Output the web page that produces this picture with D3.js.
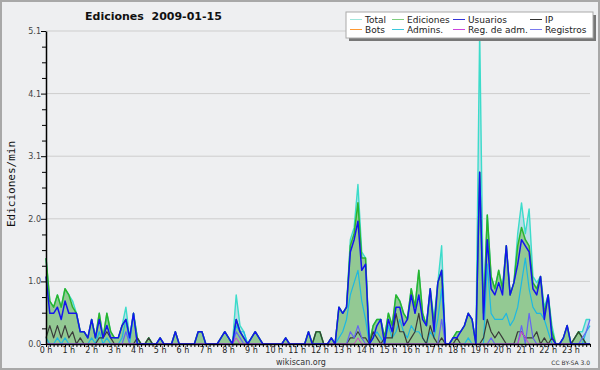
<!DOCTYPE html>
<html>
<head>
<meta charset="utf-8">
<script src="https://cdn.jsdelivr.net/npm/d3@7"></script>
<style>
  body { margin: 0; background: #fff; }
  text { font-family: "DejaVu Sans", sans-serif; }
</style>
</head>
<body>
<script>
// edits per minute, one value per 10 minute slot (144 slots)
var hours = d3.range(0, 24);
var yTicks = [0, 1.02, 2.04, 3.06, 4.08, 5.1];

var total = [
  1.4,0.7,0.6,0.8,0.6,0.9, 0.8,0.7,0.5,0.2,0.2,0.1,
  0.4,0.1,0.5,0.1,0.5,0.2, 0.1,0.1,0.3,0.6,0.1,0.5,
  0.1,0,0,0.1,0,0, 0.1,0,0,0,0.2,0,
  0,0,0,0,0.2,0.2, 0,0,0,0,0.1,0.2,
  0.1,0,0.8,0.3,0.2,0, 0.1,0.2,0.1,0,0,0,
  0,0,0,0.1,0,0, 0,0,0,0.2,0,0.2,
  0.2,0,0,0.1,0,0.6, 0.5,0.6,1.7,1.9,2.6,1.5,
  1.4,0,0.3,0.4,0.4,0.1, 0.5,0.3,0.8,0.7,0.5,0.4,
  0.9,0.6,1.2,0.5,0.3,0.9, 0.4,1.0,1.6,0,0,0.1,
  0.2,0.2,0.3,0.5,0.4,0, 5.1,0.5,2.1,1.1,0.9,1.2,
  0.9,1.6,0.8,1.0,1.8,2.3, 1.8,2.2,1.1,1.0,1.1,0.6,
  0.8,0.3,0,0,0.1,0.3, 0,0.1,0.2,0.2,0.4,0.4
];
var ediciones = [
  1.4,0.7,0.6,0.8,0.6,0.9, 0.8,0.6,0.5,0.2,0.2,0.1,
  0.4,0.1,0.5,0.1,0.5,0.2, 0.1,0.1,0.3,0.4,0.1,0.5,
  0.1,0,0,0.1,0,0, 0.1,0,0,0,0.2,0,
  0,0,0,0,0.2,0.2, 0,0,0,0,0.1,0.2,
  0.1,0,0.4,0.2,0.1,0, 0.1,0.2,0.1,0,0,0,
  0,0,0,0.1,0,0, 0,0,0,0.2,0,0.2,
  0.2,0,0,0.1,0,0.6, 0.5,0.6,1.6,1.8,2.3,1.4,
  1.4,0,0.3,0.4,0.4,0.1, 0.5,0.3,0.8,0.7,0.5,0.4,
  0.9,0.6,1.2,0.5,0.3,0.9, 0.3,1.0,1.2,0,0,0.1,
  0.2,0.2,0.3,0.5,0.4,0, 2.8,0.5,2.1,1.1,0.9,1.2,
  0.9,1.6,0.8,1.0,1.6,1.9, 1.7,1.6,1.0,0.9,1.1,0.5,
  0.8,0.2,0,0,0.1,0.3, 0,0.1,0.2,0.1,0,0
];
var usuarios = [
  1.1,0.5,0.5,0.6,0.4,0.7, 0.5,0.5,0.5,0.2,0.2,0.1,
  0.4,0.1,0.4,0.1,0.3,0.1, 0.1,0.1,0.3,0.4,0.1,0.5,
  0,0,0,0,0,0, 0.1,0,0,0,0.2,0,
  0,0,0,0,0.2,0.2, 0,0,0,0,0.1,0.2,
  0.1,0,0.4,0.2,0.1,0, 0.1,0.2,0.1,0,0,0,
  0,0,0,0.1,0,0, 0,0,0,0.2,0,0,
  0,0,0,0.1,0,0.6, 0.5,0.6,1.5,1.7,2.0,1.2,
  1.3,0,0.1,0.3,0.4,0, 0.4,0.2,0.6,0.6,0.3,0.4,
  0.8,0.5,0.8,0.4,0.3,0.9, 0.2,1.0,1.2,0,0,0.1,
  0.1,0.2,0.3,0.5,0.4,0, 2.8,0.4,1.7,0.9,0.8,1.0,
  0.8,1.6,0.8,1.0,1.3,1.7, 1.6,1.5,0.9,0.8,1.1,0.4,
  0.8,0.1,0,0,0.1,0.3, 0,0,0,0,0,0
];
var ip = [
  0.1,0.3,0.1,0.3,0.1,0.3, 0.1,0.2,0,0.1,0,0,
  0,0,0.1,0.1,0.2,0.1, 0,0,0,0,0,0,
  0.1,0,0,0.1,0,0, 0,0,0,0,0,0,
  0,0,0,0,0,0, 0,0,0,0,0,0,
  0,0,0,0,0,0, 0,0,0,0,0,0,
  0,0,0,0,0,0, 0,0,0,0,0,0.2,
  0.2,0,0,0,0,0, 0,0,0.1,0.1,0.2,0.1,
  0.1,0,0.2,0.1,0,0.1, 0.1,0.1,0.5,0.2,0.2,0,
  0.1,0.2,0.5,0.1,0,0.3, 0.1,0,0.1,0,0,0,
  0.1,0,0,0,0,0, 0,0.1,0.4,0.2,0.1,0.2,
  0.1,0,0,0,0.2,0.2, 0.1,0.1,0.1,0.2,0,0.1,
  0,0.1,0,0,0,0, 0,0.1,0.2,0.1,0,0
];
var bots = d3.range(144).map(function() { return 0; });
var admins = [
  0.1,0,0,0.1,0,0.1, 0,0,0,0,0,0,
  0.1,0,0.2,0,0.1,0, 0,0,0.1,0.4,0,0.5,
  0,0,0,0,0,0, 0,0,0,0,0,0,
  0,0,0,0,0,0, 0,0,0,0,0,0,
  0,0,0.3,0.2,0.2,0, 0,0,0,0,0,0,
  0,0,0,0,0,0, 0,0,0,0,0,0,
  0,0,0,0,0,0.1, 0.2,0.4,0.8,1.0,1.2,0.7,
  0.4,0,0.1,0.2,0.1,0, 0.3,0.1,0.2,0.4,0.2,0.1,
  0.3,0.2,0.2,0.1,0,0.2, 0.1,0.4,0.9,0,0,0,
  0,0,0,0.1,0,0, 0,0,1.3,0.5,0.4,0.4,
  0.4,0.5,0.3,0.4,0.6,1.0, 1.4,0.9,0.6,0.5,0.5,0.4,
  0.2,0,0,0,0,0, 0,0,0,0,0.2,0.3
];
var regAdm = [
  0,0,0,0,0,0, 0,0,0,0,0,0,
  0,0,0,0,0,0, 0,0,0,0,0,0,
  0,0,0,0,0,0, 0,0,0,0,0,0,
  0,0,0,0,0,0, 0,0,0,0,0,0,
  0,0,0.1,0,0,0, 0,0,0,0,0,0,
  0,0,0,0,0,0, 0,0,0,0,0,0,
  0,0,0,0,0,0, 0,0,0,0,0.1,0,
  0,0,0,0,0,0, 0,0,0,0,0,0,
  0,0,0,0,0,0, 0,0,0,0,0,0,
  0,0,0,0,0,0, 0,0,0,0,0,0,
  0,0,0,0,0,0.2, 0.1,0,0,0,0,0,
  0,0,0,0,0,0, 0,0,0,0,0,0
];
var registros = [
  0,0,0,0,0,0, 0,0,0,0,0,0,
  0,0,0,0,0,0, 0,0,0,0.2,0,0,
  0,0,0,0,0,0, 0,0,0,0,0,0,
  0,0,0,0,0,0, 0,0,0,0,0,0,
  0,0,0.2,0.1,0,0, 0,0,0,0,0,0,
  0,0,0,0,0,0, 0,0,0,0,0,0,
  0,0,0,0,0,0, 0,0,0.2,0.1,0.3,0.1,
  0,0,0,0,0,0, 0,0,0,0,0,0,
  0,0,0,0,0,0, 0,0,0.4,0,0,0,
  0,0,0,0,0,0, 0,0,0,0.1,0,0,
  0,0,0,0,0,0.3, 0,0.5,0.1,0,0,0,
  0,0,0,0,0,0, 0,0,0,0.1,0.2,0.4
];

var legendNames = ["Total", "Ediciones", "Usuarios", "IP", "Bots", "Admins.", "Reg. de adm.", "Registros"];
var legendColors = ["#9fe6dc", "#7fcf7f", "#3535d8", "#333333", "#ff9a33", "#3cc8dc", "#cc44dd", "#7a7aee"];

var W = 600, H = 370;

var svg = d3.select("body").append("svg")
            .attr("width", W)
            .attr("height", H);

svg.append("rect")
   .attr("x", 1).attr("y", 1)
   .attr("width", W - 2).attr("height", H - 2)
   .attr("fill", "#eeeff1")
   .attr("stroke", "#a8a8a8")
   .attr("stroke-width", 2);

var x = d3.scaleLinear().domain([0, 143]).range([46, 590]);
var y = d3.scaleLinear().domain([0, 5.1]).range([344, 31]);

// grid lines
svg.selectAll("line.grid")
   .data(yTicks.slice(1))
   .enter().append("line")
   .attr("class", "grid")
   .attr("x1", x(0)).attr("x2", x(143))
   .attr("y1", function(d) { return y(d); })
   .attr("y2", function(d) { return y(d); })
   .attr("stroke", "#cdcdcd")
   .attr("stroke-width", 1);

var area = d3.area()
             .x(function(d, i) { return x(i); })
             .y0(y(0))
             .y1(function(d) { return y(d); });

var line = d3.line()
             .x(function(d, i) { return x(i); })
             .y(function(d) { return y(d); });

svg.append("path").attr("d", area(total))
   .attr("fill", "#b3dbe6").attr("opacity", 0.85);
svg.append("path").attr("d", area(ediciones))
   .attr("fill", "#93c993");

function drawLine(data, color, width) {
    svg.append("path")
       .attr("d", line(data))
       .attr("fill", "none")
       .attr("stroke", color)
       .attr("stroke-width", width)
       .attr("stroke-linejoin", "round");
}

drawLine(total, "#3cdcca", 1.4);
drawLine(ediciones, "#2cb42c", 1.5);
drawLine(admins, "#1eb8e2", 1.2);
drawLine(ip, "#3a3a3a", 1.2);
drawLine(registros, "#6565f2", 1.2);
drawLine(regAdm, "#d040d0", 1);
drawLine(usuarios, "#1414ee", 1.5);

// x axis: small tick every 10 minutes, label every hour
svg.append("g")
   .attr("transform", "translate(0,344)")
   .call(d3.axisBottom(x).tickValues(d3.range(0, 144)).tickSize(3).tickSizeOuter(0).tickFormat(""))
   .call(function(g) {
       g.select(".domain").attr("stroke", "#000").attr("stroke-width", 1.5);
       g.selectAll(".tick line").attr("stroke", "#000");
   });

svg.append("g")
   .selectAll("text")
   .data(hours)
   .enter().append("text")
   .attr("x", function(d) { return x(d * 6); })
   .attr("y", 353)
   .attr("text-anchor", "middle")
   .attr("font-size", 8)
   .attr("fill", "#222")
   .text(function(d) { return d + " h"; });

// y axis
var minor = [];
yTicks.slice(0, -1).forEach(function(v) {
    [0.25, 0.5, 0.75].forEach(function(f) { minor.push(v + f * 1.02); });
});

svg.append("g")
   .attr("transform", "translate(46,0)")
   .call(d3.axisLeft(y).tickValues(minor).tickSize(4).tickSizeOuter(0).tickFormat(""))
   .call(function(g) { g.select(".domain").remove(); });

svg.append("g")
   .attr("transform", "translate(46,0)")
   .call(d3.axisLeft(y).tickValues(yTicks).tickSize(5).tickSizeOuter(0).tickFormat(d3.format(".1f")))
   .call(function(g) {
       g.select(".domain").attr("stroke", "#000").attr("stroke-width", 1.5);
       g.selectAll("text").attr("font-family", "DejaVu Sans").attr("font-size", 8).attr("fill", "#444").attr("x", -5);
   });

// titles
svg.append("text")
   .attr("x", 85).attr("y", 20)
   .attr("font-size", 11).attr("font-weight", "bold")
   .attr("fill", "#111")
   .attr("xml:space", "preserve")
   .text("Ediciones  2009-01-15");

svg.append("text")
   .attr("transform", "translate(15,184) rotate(-90)")
   .attr("text-anchor", "middle")
   .attr("font-family", "DejaVu Sans Mono")
   .style("font-family", "'DejaVu Sans Mono', monospace")
   .attr("font-size", 11)
   .attr("fill", "#111")
   .text("Ediciones/min");

svg.append("text")
   .attr("x", 301).attr("y", 365)
   .attr("text-anchor", "middle")
   .attr("font-size", 8).attr("fill", "#333")
   .text("wikiscan.org");

svg.append("text")
   .attr("x", 590).attr("y", 365)
   .attr("text-anchor", "end")
   .attr("font-size", 6).attr("fill", "#333")
   .text("CC BY-SA 3.0");

// legend
var lg = svg.append("g");
lg.append("rect")
  .attr("x", 349).attr("y", 15).attr("width", 247).attr("height", 26)
  .attr("fill", "#777");
lg.append("rect")
  .attr("x", 346).attr("y", 12).attr("width", 247).attr("height", 26)
  .attr("fill", "#fff").attr("stroke", "#aaa");

var colX = [350, 392, 453, 530];
legendNames.forEach(function(name, i) {
    var cx = colX[i % 4], cy = i < 4 ? 19.5 : 29.5;
    lg.append("line")
      .attr("x1", cx).attr("x2", cx + 12)
      .attr("y1", cy).attr("y2", cy)
      .attr("stroke", legendColors[i]).attr("stroke-width", 1);
    lg.append("text")
      .attr("x", cx + 15).attr("y", cy + 3.5)
      .attr("font-size", 9).attr("fill", "#222")
      .text(name);
});
</script>
</body>
</html>
